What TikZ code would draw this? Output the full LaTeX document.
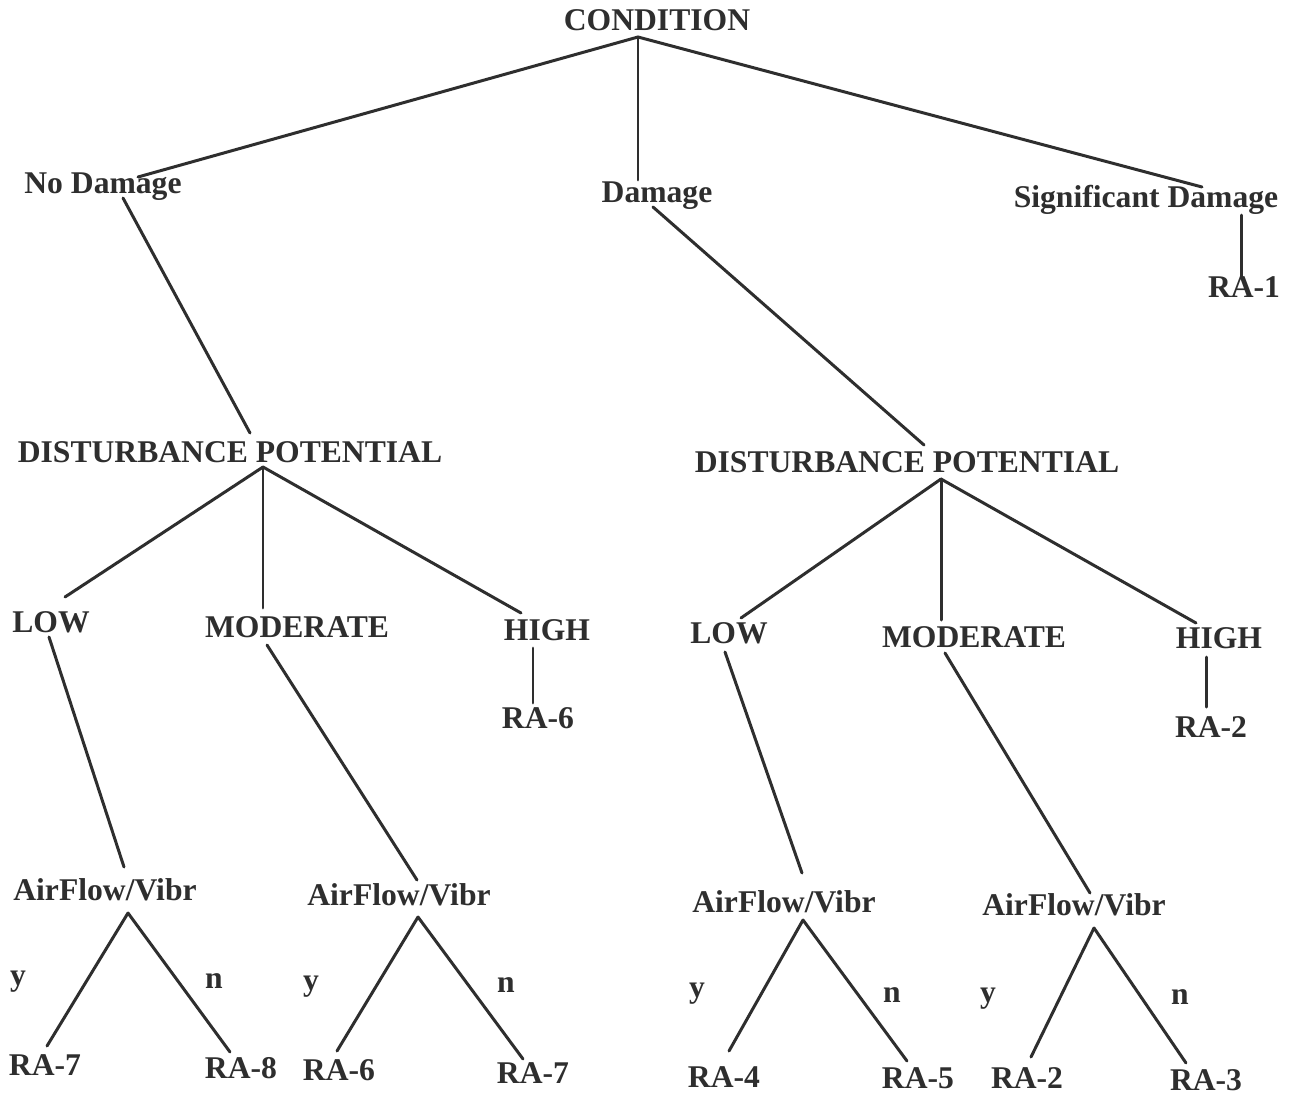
\documentclass[tikz,border=0pt]{standalone}
\usepackage{fontspec}
\setmainfont{Liberation Serif}
\usetikzlibrary{calc}
\definecolor{ink}{HTML}{2E2E2E}
\tikzset{
    tree label/.style={anchor=base, inner sep=0pt, text=ink,
        font=\bfseries\fontsize{18}{21}\selectfont},
    branch line/.style={line width=1.7pt, ink, line cap=round}
}
% branch from (node,offset) to (node,offset), offsets in px, y down
\newcommand{\Branch}[4]{%
\draw[branch line] ($(#1.base)+(#2)$) -- ($(#3.base)+(#4)$);
}

\begin{document}
\begin{tikzpicture}[x=0.02cm,y=-0.02cm]
    \useasboundingbox[fill=white] (0,0) rectangle (1292,1096);
    % top level
    \node[tree label] (cond) at (657,30) {CONDITION};
    \node[tree label] (nodmg) at (103,193) {No Damage};
    \node[tree label] (dmg) at (657,202) {Damage};
    \node[tree label] (sigdmg) at (1146,207) {Significant Damage};
    \node[tree label] (ra1) at (1244,297) {RA-1};
    \Branch{cond}{-19,7}{nodmg}{35,-16}
    \Branch{cond}{-19,7}{dmg}{-19,-22}
    \Branch{cond}{-19,7}{sigdmg}{56,-20}
    \Branch{sigdmg}{95,8}{ra1}{-3,-20}
    % no damage side
    \node[tree label] (dpA) at (230,462) {DISTURBANCE POTENTIAL};
    \node[tree label] (lowA) at (51,632) {LOW};
    \node[tree label] (modA) at (297,637) {MODERATE};
    \node[tree label] (highA) at (547,640) {HIGH};
    \node[tree label] (raHighA) at (538,728) {RA-6};
    \Branch{nodmg}{20,5}{dpA}{20,-29}
    \Branch{dpA}{33,5}{lowA}{14,-35}
    \Branch{dpA}{33,5}{modA}{-34,-29}
    \Branch{dpA}{33,5}{highA}{-26,-27}
    \Branch{highA}{-14,8}{raHighA}{-5,-25}
    \node[tree label] (afA) at (105,900) {AirFlow/Vibr};
    \node[tree label] (afB) at (399,905) {AirFlow/Vibr};
    \Branch{lowA}{-2,5}{afA}{19,-33}
    \Branch{modA}{-30,8}{afB}{18,-25}
    \node[tree label] (yA) at (18,985) {y};
    \node[tree label] (nA) at (214,988) {n};
    \node[tree label] (raYA) at (45,1075) {RA-7};
    \node[tree label] (raNA) at (241,1078) {RA-8};
    \Branch{afA}{23,13}{raYA}{2,-29}
    \Branch{afA}{23,13}{raNA}{-11,-26}
    \node[tree label] (yB) at (311,990) {y};
    \node[tree label] (nB) at (506,992) {n};
    \node[tree label] (raYB) at (339,1080) {RA-6};
    \node[tree label] (raNB) at (533,1083) {RA-7};
    \Branch{afB}{19,12}{raYB}{-2,-29}
    \Branch{afB}{19,12}{raNB}{-10,-24}
    % damage side
    \node[tree label] (dpB) at (907,472) {DISTURBANCE POTENTIAL};
    \node[tree label] (lowB) at (729,643) {LOW};
    \node[tree label] (modB) at (974,647) {MODERATE};
    \node[tree label] (highB) at (1219,648) {HIGH};
    \node[tree label] (raHighB) at (1211,737) {RA-2};
    \Branch{dmg}{-4,5}{dpB}{17,-27}
    \Branch{dpB}{34,7}{lowB}{12,-25}
    \Branch{dpB}{34,7}{modB}{-33,-27}
    \Branch{dpB}{34,7}{highB}{-23,-25}
    \Branch{highB}{-13,9}{raHighB}{-5,-30}
    \node[tree label] (afC) at (784,912) {AirFlow/Vibr};
    \node[tree label] (afD) at (1074,915) {AirFlow/Vibr};
    \Branch{lowB}{-4,9}{afC}{18,-39}
    \Branch{modB}{-29,6}{afD}{16,-22}
    \node[tree label] (yC) at (697,997) {y};
    \node[tree label] (nC) at (892,1002) {n};
    \node[tree label] (raYC) at (724,1087) {RA-4};
    \node[tree label] (raNC) at (918,1088) {RA-5};
    \Branch{afC}{19,8}{raYC}{5,-36}
    \Branch{afC}{19,8}{raNC}{-11,-27}
    \node[tree label] (yD) at (988,1002) {y};
    \node[tree label] (nD) at (1180,1004) {n};
    \node[tree label] (raYD) at (1027,1088) {RA-2};
    \node[tree label] (raND) at (1206,1090) {RA-3};
    \Branch{afD}{20,13}{raYD}{4,-31}
    \Branch{afD}{20,13}{raND}{-20,-27}
\end{tikzpicture}
\end{document}
